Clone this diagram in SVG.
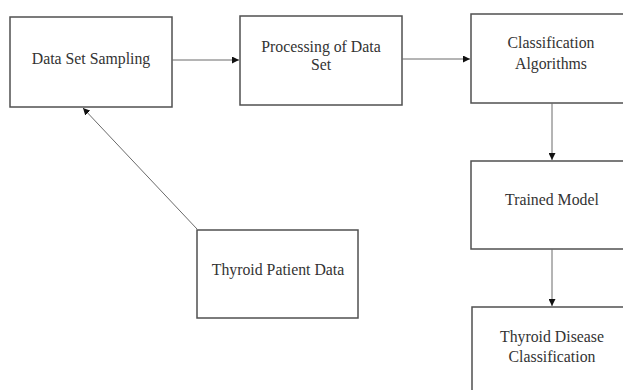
<svg xmlns="http://www.w3.org/2000/svg" width="623" height="390" viewBox="0 0 623 390">
<style>
.box{fill:#fff;stroke:#505050;stroke-width:1.5}
.lbl{font-family:"Liberation Serif","Times New Roman",serif;font-size:15.8px;fill:#333;text-anchor:middle}
.edge{stroke:#6a6a6a;stroke-width:1;fill:none}
</style>
<defs>
<marker id="ah" viewBox="0 0 10 10" refX="10" refY="5" markerWidth="7" markerHeight="7" orient="auto" markerUnits="userSpaceOnUse">
<path d="M0,0 L10,5 L0,10 z" fill="#111"/>
</marker>
</defs>
<rect width="623" height="390" fill="#fff"/>
<g id="n1"><rect class="box" x="10" y="17" width="162" height="90"/><text class="lbl" x="91" y="64">Data Set Sampling</text></g>
<g id="n2"><rect class="box" x="240" y="16" width="162" height="89"/><text class="lbl" x="321" y="52">Processing of Data</text><text class="lbl" x="321" y="70">Set</text></g>
<g id="n3"><rect class="box" x="471" y="14" width="162" height="89"/><text class="lbl" x="551" y="48">Classification</text><text class="lbl" x="551" y="69">Algorithms</text></g>
<g id="n4"><rect class="box" x="471" y="161" width="162" height="88"/><text class="lbl" x="552" y="205">Trained Model</text></g>
<g id="n5"><rect class="box" x="472" y="307" width="162" height="100"/><text class="lbl" x="552" y="342">Thyroid Disease</text><text class="lbl" x="552" y="362">Classification</text></g>
<g id="n6"><rect class="box" x="197" y="230" width="161" height="88"/><text class="lbl" x="278" y="275">Thyroid Patient Data</text></g>
<g id="edges">
<line class="edge" x1="172" y1="60" x2="239" y2="60" marker-end="url(#ah)"/>
<line class="edge" x1="402" y1="59" x2="470" y2="59" marker-end="url(#ah)"/>
<line class="edge" x1="552" y1="103" x2="552" y2="160" marker-end="url(#ah)"/>
<line class="edge" x1="552" y1="249" x2="552" y2="306" marker-end="url(#ah)"/>
<line class="edge" x1="197" y1="229" x2="83" y2="108" marker-end="url(#ah)"/>
</g>
</svg>
